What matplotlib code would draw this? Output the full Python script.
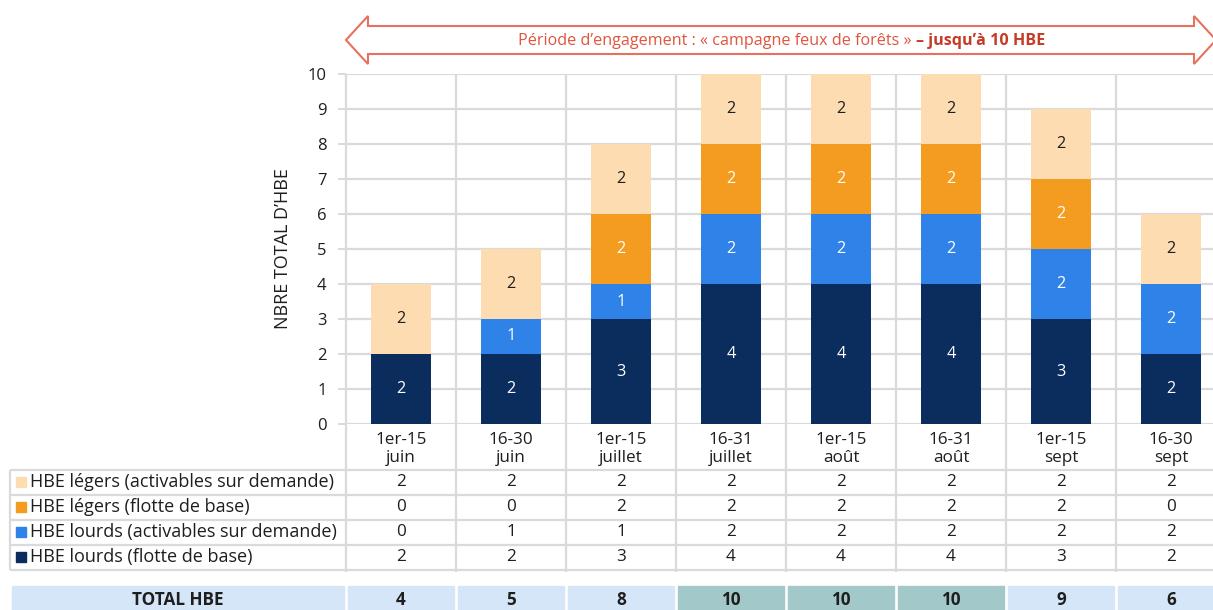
import numpy as np
import matplotlib.pyplot as plt
from matplotlib.patches import Rectangle, Polygon
from matplotlib.transforms import blended_transform_factory

plt.rcParams['font.family'] = ['Open Sans', 'DejaVu Sans']

# données
periodes = ['1er-15\njuin', '16-30\njuin', '1er-15\njuillet', '16-31\njuillet',
            '1er-15\naoût', '16-31\naoût', '1er-15\nsept', '16-30\nsept']
legers_activables = [2, 2, 2, 2, 2, 2, 2, 2]
legers_base = [0, 0, 2, 2, 2, 2, 2, 0]
lourds_activables = [0, 1, 1, 2, 2, 2, 2, 2]
lourds_base = [2, 2, 3, 4, 4, 4, 3, 2]
noms_series = ['HBE légers (activables sur demande)', 'HBE légers (flotte de base)',
               'HBE lourds (activables sur demande)', 'HBE lourds (flotte de base)']
yticks = list(range(0, 11))

c_peche = '#fcdcb0'
c_orange = '#f39c1f'
c_bleu = '#2f83e8'
c_marine = '#0b2d5e'
c_grille = '#dadada'
c_texte = '#1e1e1e'
fs = 12.3

W, H = 1213, 610
fig = plt.figure(figsize=(W / 100, H / 100), dpi=100)

# calque en pixels pour le tableau et la flèche
tab = fig.add_axes([0, 0, 1, 1])
tab.set_xlim(0, W)
tab.set_ylim(H, 0)
tab.axis('off')

x0, col_w = 346, 110
y_haut, y_bas = 74, 424
ax = fig.add_axes([x0 / W, 1 - y_bas / H, len(periodes) * col_w / W, (y_bas - y_haut) / H])
ax.patch.set_alpha(0)
x = np.arange(len(periodes))
ax.set_xlim(-0.5, len(periodes) - 0.5)
ax.set_ylim(0, 10)

# barres empilées
piles = [(lourds_base, c_marine, 'white'), (lourds_activables, c_bleu, 'white'),
         (legers_base, c_orange, 'white'), (legers_activables, c_peche, c_texte)]
bas = np.zeros(len(periodes))
for vals, col, tc in piles:
    vals = np.array(vals)
    bars = ax.bar(x, vals, 0.55, bottom=bas, color=col, zorder=3)
    ax.bar_label(bars, labels=[str(v) if v > 0 else '' for v in vals],
                 label_type='center', color=tc, fontsize=11.8)
    bas += vals

ax.set_yticks(yticks)
ax.set_xticks([])
ax.yaxis.grid(True, color=c_grille, lw=1.6)
ax.set_axisbelow(True)
for s in ax.spines.values():
    s.set_visible(False)
ax.tick_params(axis='y', length=6, width=1.4, color=c_grille, labelsize=12,
               labelcolor=c_texte, pad=8)
ax.set_ylabel('NBRE TOTAL D’HBE', fontsize=13, color=c_texte)
ax.yaxis.set_label_coords((292 - x0) / (len(periodes) * col_w), 0.5)

trans = blended_transform_factory(ax.transData, tab.transData)

# lignes verticales des colonnes
tab.vlines(np.arange(len(periodes) + 1) - 0.5, y_haut, 572, transform=trans,
           color=c_grille, lw=1.6, zorder=0)

# libellés des périodes
for i, p in enumerate(periodes):
    tab.text(i, 449, p, transform=trans, ha='center', va='center',
             fontsize=fs, color=c_texte, linespacing=1.25)

# tableau des valeurs
lignes = [legers_activables, legers_base, lourds_activables, lourds_base]
couleurs = [c_peche, c_orange, c_bleu, c_marine]
y_lignes = [482, 507, 532, 557]
tab.hlines([470, 495, 520, 545, 570], 10, W, color=c_grille, lw=1.6, zorder=0)
tab.vlines(10, 470, 570, color=c_grille, lw=1.6, zorder=0)
for nom, vals, col, yy in zip(noms_series, lignes, couleurs, y_lignes):
    tab.add_patch(Rectangle((16, yy - 5), 10, 10, color=col))
    tab.text(30, yy, nom, ha='left', va='center', fontsize=13, color=c_texte)
    for i, v in enumerate(vals):
        tab.text(i, yy, str(v), transform=trans, ha='center', va='center',
                 fontsize=fs, color=c_texte)

# ligne total
totaux = np.array(lourds_base) + np.array(lourds_activables) + np.array(legers_base) + np.array(legers_activables)
tab.add_patch(Rectangle((12, 586), 332, 30, color='#d5e6f8'))
tab.text(178, 600, 'TOTAL HBE', ha='center', va='center', fontsize=fs,
         fontweight='bold', color=c_texte)
for i, t in enumerate(totaux):
    fond = '#a2c8ca' if t == 10 else '#d5e6f8'
    tab.add_patch(Rectangle((i - 0.48, 586), 0.96, 30, transform=trans, color=fond))
    tab.text(i, 600, str(t), transform=trans, ha='center', va='center',
             fontsize=fs, fontweight='bold', color=c_texte)

# flèche double
fleche = [(346, 40), (368, 16), (368, 26), (1194, 26), (1194, 16), (1216, 40),
          (1194, 64), (1194, 54), (368, 54), (368, 64)]
tab.add_patch(Polygon(fleche, closed=True, facecolor='white', edgecolor='#e8705f', lw=1.5))
t1 = tab.text(0, 41, 'Période d’engagement : « campagne feux de forêts » ', ha='left',
              va='center', fontsize=11.6, color='#e0553f')
t2 = tab.text(0, 41, '– jusqu’à 10 HBE', ha='left', va='center', fontsize=11.6,
              fontweight='bold', color='#c63a28')
fig.canvas.draw()
r = fig.canvas.get_renderer()
w1 = t1.get_window_extent(r).width
w2 = t2.get_window_extent(r).width
debut = 782 - (w1 + w2) / 2
t1.set_x(debut)
t2.set_x(debut + w1)

fig.savefig('out.png', dpi=100)
